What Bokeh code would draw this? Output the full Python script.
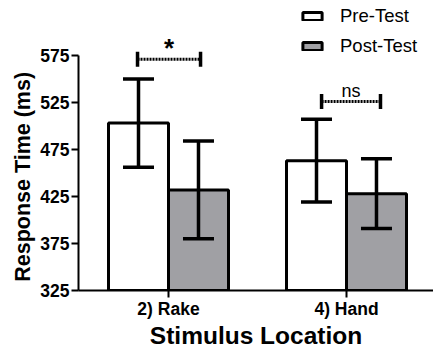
import math
from bokeh.plotting import figure
from bokeh.models import (ColumnDataSource, Whisker, TeeHead, Range1d, Legend,
                          LegendItem, FixedTicker, Title)
from bokeh.transform import dodge
from bokeh.core.properties import value
from bokeh.embed import file_html
from bokeh.resources import INLINE

# ---- data ----
locations = ["2) Rake", "4) Hand"]
pre_mean = [503, 463]
pre_err = [47, 44]
post_mean = [432, 428]
post_err = [52, 37]
sig_labels = ["*", "ns"]
sig_level = [571, 526]
bracket_from = [-0.174, -0.14]
bracket_to = [0.18, 0.191]
y_ticks = [325, 375, 425, 475, 525, 575]
x_title = "Stimulus Location"
y_title = "Response Time (ms)"

FONT = "Liberation Sans"
idx = list(range(len(locations)))

src = ColumnDataSource(dict(
    x=idx,
    pre=pre_mean, post=post_mean,
    pre_lo=[m - e for m, e in zip(pre_mean, pre_err)],
    pre_hi=[m + e for m, e in zip(pre_mean, pre_err)],
    post_lo=[m - e for m, e in zip(post_mean, post_err)],
    post_hi=[m + e for m, e in zip(post_mean, post_err)],
))

p = figure(width=433, height=351, output_backend="svg", toolbar_location=None,
           x_range=Range1d(-0.5056, 1.4888), y_range=Range1d(325, 633.4),
           min_border_left=78, min_border_right=0, min_border_top=0,
           min_border_bottom=59)
p.outline_line_color = None
p.grid.visible = False
p.background_fill_color = "white"

off = 0.1685
bw = 0.337
r_pre = p.vbar(x=dodge("x", -off, range=p.x_range), top="pre", bottom=325, width=bw,
               source=src, fill_color="white", line_color="black", line_width=3)
r_post = p.vbar(x=dodge("x", off, range=p.x_range), top="post", bottom=325, width=bw,
                source=src, fill_color="#a0a0a4", line_color="black", line_width=3)

for base, lo, hi in [(dodge("x", -off, range=p.x_range), "pre_lo", "pre_hi"),
                     (dodge("x", off, range=p.x_range), "post_lo", "post_hi")]:
    w = Whisker(base=base, lower=lo, upper=hi, source=src, line_width=3.5,
                line_color="black", level="overlay",
                upper_head=TeeHead(size=31, line_width=3.5, line_color="black"),
                lower_head=TeeHead(size=31, line_width=3.5, line_color="black"))
    p.add_layout(w)

# significance brackets
bx0 = [i + a for i, a in zip(idx, bracket_from)]
bx1 = [i + b for i, b in zip(idx, bracket_to)]
bmid = [(a + b) / 2 for a, b in zip(bx0, bx1)]
p.segment(x0=bx0, y0=sig_level, x1=bx1, y1=sig_level, line_color="black",
          line_width=3, line_dash="2 1")
p.scatter(x=bx0 + bx1, y=sig_level + sig_level, marker="dash", angle=math.pi / 2,
          size=15, line_width=3.5, line_color="black")
p.text(x=[bmid[0]], y=[sig_level[0] + 11.5], text=[sig_labels[0]], text_align="center",
       text_baseline="alphabetic", text_font=value(FONT), text_font_style="bold",
       text_font_size="26px", text_color="black")
p.text(x=[bmid[1]], y=[sig_level[1] + 11], text=[sig_labels[1]], text_align="center",
       text_baseline="alphabetic", text_font=value(FONT), text_font_size="18px",
       text_color="black")

# axes
p.yaxis.ticker = FixedTicker(ticks=y_ticks)
p.yaxis.bounds = (325, 575)
p.xaxis.ticker = FixedTicker(ticks=idx)
p.xaxis.major_label_overrides = {i: lab for i, lab in zip(idx, locations)}
for ax in (p.xaxis[0], p.yaxis[0]):
    ax.axis_line_color = "black"
    ax.axis_line_width = 2
    ax.major_tick_line_color = "black"
    ax.major_tick_line_width = 2
    ax.major_tick_out = 7
    ax.major_tick_in = 0
    ax.minor_tick_line_color = None
    ax.major_label_text_font = FONT
    ax.major_label_text_font_style = "bold"
    ax.major_label_text_font_size = "17.5px"
    ax.major_label_text_color = "black"
p.xaxis.major_label_standoff = 1
p.yaxis.major_label_standoff = 2

p.xaxis.axis_label = x_title
p.xaxis.axis_label_text_font = FONT
p.xaxis.axis_label_text_font_style = "bold"
p.xaxis.axis_label_text_font_size = "24.5px"
p.xaxis.axis_label_text_color = "black"
p.xaxis.axis_label_standoff = 0

p.add_layout(Title(text=y_title, align="left", offset=8.7, standoff=6,
                   text_font=FONT, text_font_style="bold", text_font_size="21.5px",
                   text_color="black"), "left")

legend = Legend(items=[LegendItem(label="Pre-Test", renderers=[r_pre]),
                       LegendItem(label="Post-Test", renderers=[r_post])],
                location=(222, 233), padding=0, margin=0, spacing=8,
                glyph_width=24, glyph_height=10, label_height=20,
                label_standoff=16, label_text_font=FONT, label_text_font_size="18.5px",
                label_text_color="black", border_line_color=None,
                background_fill_alpha=0)
p.add_layout(legend)

open("out.html", "w").write(file_html(p, INLINE))
